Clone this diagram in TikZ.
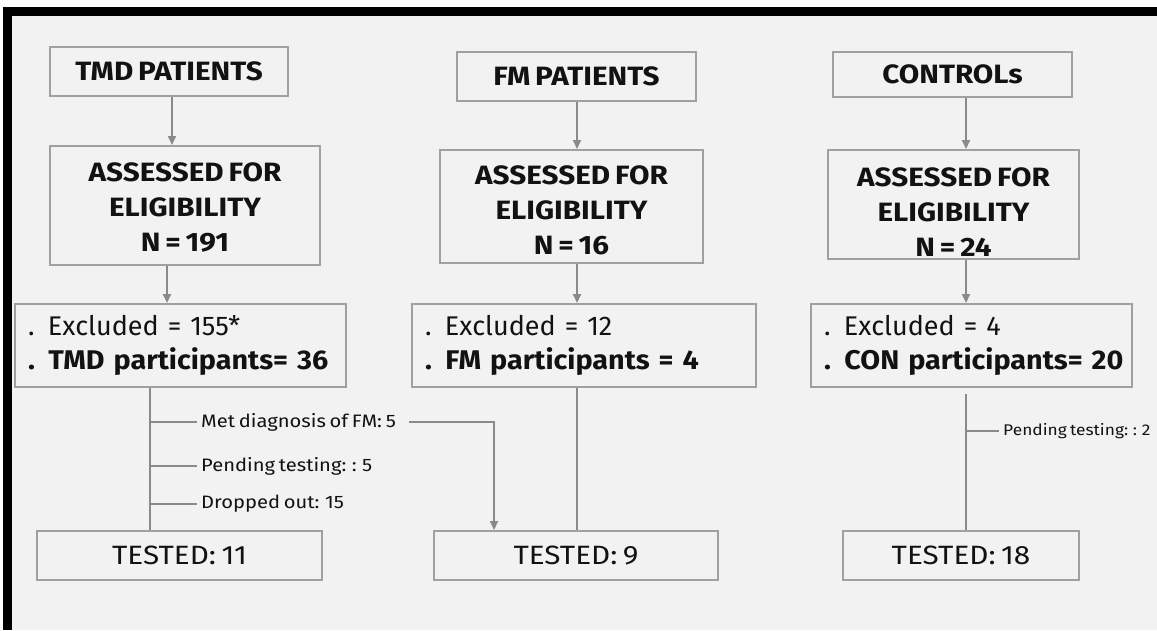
\documentclass[tikz,border=0pt]{standalone}
\usepackage{fontspec}
\setmainfont{Fira Sans}[WordSpace=0.65]
\newfontfamily\widefont{Fira Sans}[FakeStretch=1.12, WordSpace=0.7]
\newfontfamily\exboldfont{Fira Sans}[FakeStretch=1.065, WordSpace=0.7]
\usetikzlibrary{arrows.meta}
\definecolor{bg}{RGB}{242,242,242}
\definecolor{boxgray}{RGB}{160,160,160}
\definecolor{linegray}{RGB}{138,138,138}
\definecolor{ink}{RGB}{18,18,18}
\newcommand{\exb}[1]{\mbox{\exboldfont\bfseries #1}}
\begin{document}
\begin{tikzpicture}[x=1pt,y=-1pt,
  box/.style={draw=boxgray, line width=2pt, fill=bg, inner sep=0pt, text=ink, align=center},
  head/.style={box, font=\widefont\fontsize{26.5}{35}\selectfont\bfseries},
  assess/.style={box, font=\widefont\fontsize{26.5}{35}\selectfont\bfseries},
  excl/.style={box, align=left, inner xsep=13pt, font=\fontsize{27}{34}\selectfont},
  tested/.style={box, font=\widefont\fontsize{26.5}{34}\selectfont},
  lbl/.style={inner xsep=4pt, inner ysep=0pt, text=ink, font=\widefont\fontsize{18}{22}\selectfont, anchor=west},
  conn/.style={draw=linegray, line width=2pt},
  arr/.style={conn, -{Triangle[length=9pt,width=8pt]}}]
\clip (0,0) rectangle (1157,630);
\fill[white] (0,0) rectangle (1157,630);
\fill[bg] (3,7) rectangle (1157,630);
\fill[black] (3,7) rectangle (1157,16);
\fill[black] (3,7) rectangle (12,630);

% TMD column
\node[head, minimum width=238pt, minimum height=49pt] (tmdh) at (169,71.5) {TMD PATIENTS};
\node[assess, minimum width=270pt, minimum height=119pt] (tmda) at (185,205.5) {\rule{0pt}{23pt}ASSESSED FOR\\ELIGIBILITY\\N = 191};
\node[excl, text width=305pt, minimum height=83pt] (tmde) at (180.5,345.5) {\mbox{. Excluded = 155*}\\\exb{. TMD participants= 36}};
\node[tested, minimum width=285pt, minimum height=49pt] (tmdt) at (179.5,555.5) {TESTED: 11};

% FM column
\node[head, minimum width=239pt, minimum height=49pt] (fmh) at (576.5,76.5) {FM PATIENTS};
\node[assess, minimum width=263pt, minimum height=113pt] (fma) at (571.5,206.5) {\rule{0pt}{27pt}ASSESSED FOR\\ELIGIBILITY\\N = 16};
\node[excl, text width=318pt, minimum height=83pt] (fme) at (584,345.5) {\mbox{. Excluded = 12}\\\exb{. FM participants = 4}};
\node[tested, minimum width=284pt, minimum height=49pt] (fmt) at (576,555.5) {TESTED: 9};

% Controls column
\node[head, minimum width=239pt, minimum height=45pt] (conh) at (952.5,74.5) {CONTROLs};
\node[assess, minimum width=251pt, minimum height=109pt] (cona) at (953.5,204.5) {\rule{0pt}{33pt}ASSESSED FOR\\ELIGIBILITY\\N = 24};
\node[excl, text width=295pt, minimum height=83pt] (cone) at (971.5,345.5) {\mbox{. Excluded = 4}\\\exb{. CON participants= 20}};
\node[tested, minimum width=236pt, minimum height=49pt] (cont) at (961,555.5) {TESTED: 18};

% side labels
\node[lbl] (met) at (197,422) {Met diagnosis of FM: 5};
\node[lbl] (pend) at (197,466) {Pending testing: : 5};
\node[lbl] (drop) at (197,504) {Dropped out: 15};
\node[lbl, font=\widefont\fontsize{15.5}{19}\selectfont] (pendc) at (999,431) {Pending testing: : 2};

% helper x positions
\coordinate (x1) at (172,0);
\coordinate (x2) at (167,0);
\coordinate (x3) at (150,0);
\coordinate (x4) at (577,0);
\coordinate (x5) at (966,0);
\coordinate (x6) at (494,0);
\coordinate (b1) at (150,422);
\coordinate (b2) at (150,466);
\coordinate (b3) at (150,504);
\coordinate (b4) at (966,431);

% connectors
\draw[arr] (tmdh.south -| x1) -- (tmda.north -| x1);
\draw[arr] (tmda.south -| x2) -- (tmde.north -| x2);
\draw[conn] (tmde.south -| x3) -- (tmdt.north -| x3);
\draw[conn] (b1) -- (met.west);
\draw[conn] (b2) -- (pend.west);
\draw[conn] (b3) -- (drop.west);
\draw[arr] ([xshift=9pt]met.east) -| (fmt.north -| x6);

\draw[arr] (fmh.south -| x4) -- (fma.north -| x4);
\draw[arr] (fma.south -| x4) -- (fme.north -| x4);
\draw[conn] (fme.south -| x4) -- (fmt.north -| x4);

\draw[arr] (conh.south -| x5) -- (cona.north -| x5);
\draw[arr] (cona.south -| x5) -- (cone.north -| x5);
\draw[conn] ([yshift=-6pt]cone.south -| x5) -- (cont.north -| x5);
\draw[conn] (b4) -- (pendc.west);
\end{tikzpicture}
\end{document}
